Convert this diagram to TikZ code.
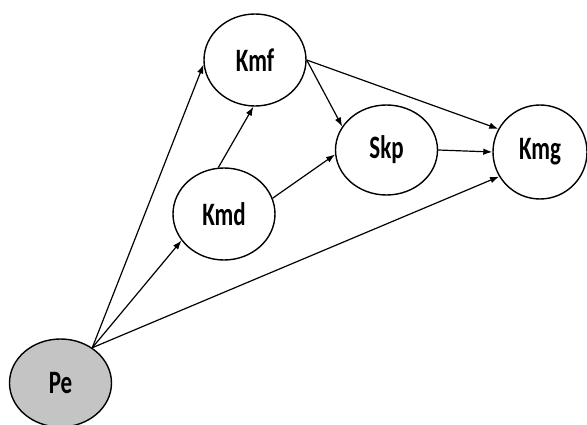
\documentclass[tikz,border=0pt]{standalone}
\usepackage{fontspec}
\setmainfont{Carlito}
\usetikzlibrary{shapes.geometric,arrows.meta}
\definecolor{pegray}{RGB}{196,196,196}
\tikzset{
  var/.style={draw=black, line width=1.4pt, ellipse, inner sep=0pt,
    minimum width=102pt, minimum height=92pt, fill=white,
    font=\fontsize{23}{23}\selectfont\bfseries},
  link/.style={line width=1.2pt, -{Latex[length=9pt,width=6.5pt]}}
}
\newcommand{\vlabel}[1]{\scalebox{1}[1.42]{#1}}
\begin{document}
\begin{tikzpicture}[x=1pt,y=-1pt]
  \useasboundingbox (0,0) rectangle (587,425);
  % latent variables
  \node[var] (kmf) at (255,60) {\vlabel{Kmf}};
  \node[var] (kmd) at (224,214) {\vlabel{Kmd}};
  \node[var, minimum height=90pt] (skp) at (386.5,150) {\vlabel{Skp}};
  \node[var, minimum width=94pt, minimum height=94pt] (kmg) at (540,152) {\vlabel{Kmg}};
  \node[var, fill=pegray, minimum height=88pt] (pe) at (60.5,383) {\vlabel{Pe}};
  % paths
  \draw[link] (pe.48) -- (kmf.185);
  \draw[link] (pe.48) -- (kmd.212);
  \draw[link] (pe.48) -- (kmg.211);
  \draw[link] (kmd.97) -- (kmf.268);
  \draw[link] (kmd.18) -- (skp.185);
  \draw[link] (kmf.0) -- (skp.152);
  \draw[link] (kmf.0) -- (kmg.151);
  \draw[link] (skp.0) -- (kmg.180);
\end{tikzpicture}
\end{document}
